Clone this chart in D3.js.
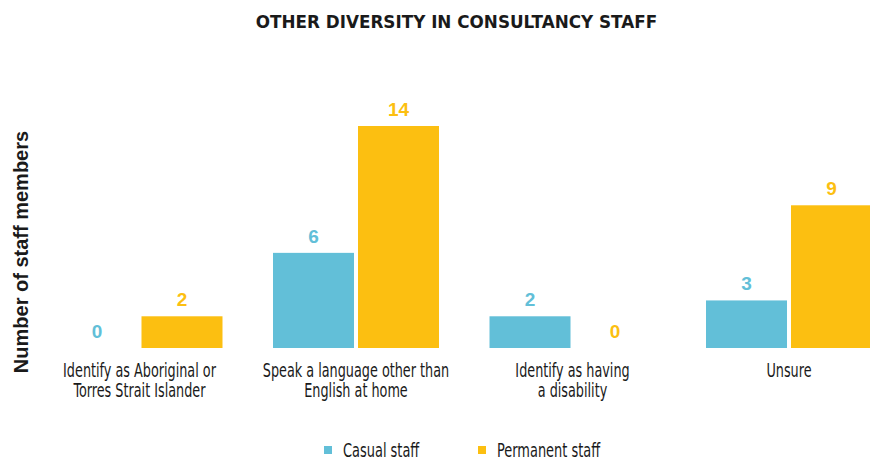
<!DOCTYPE html>
<html>
<head>
<meta charset="utf-8">
<script src="https://cdn.jsdelivr.net/npm/d3@7"></script>
<style>
  html, body { margin: 0; padding: 0; background: #ffffff; }
  svg { display: block; }
</style>
</head>
<body>
<svg id="chart" width="870" height="460"></svg>
<script>
const title = "OTHER DIVERSITY IN CONSULTANCY STAFF";
const yAxisTitle = "Number of staff members";
const categories = [
  ["Identify as Aboriginal or", "Torres Strait Islander"],
  ["Speak a language other than", "English at home"],
  ["Identify as having", "a disability"],
  ["Unsure"]
];
const seriesNames = ["Casual staff", "Permanent staff"];
const casualValues = [0, 6, 2, 3];
const permanentValues = [2, 14, 0, 9];
const seriesColors = ["#62BFD8", "#FCBF11"];

const condensed = "'DejaVu Sans Condensed', 'DejaVu Sans', sans-serif";
const boldFont = "'Liberation Sans', Arial, sans-serif";
const titleFont = "'DejaVu Sans', sans-serif";
const textColor = "#1a1a1a";
const narrow = 0.73;

const svg = d3.select("#chart");
const catKeys = categories.map((c, i) => i);
const seriesValues = [casualValues, permanentValues];

const x0 = d3.scaleBand().domain(catKeys).range([31.25, 897.25]).paddingInner(0.2333).paddingOuter(0.11665);
const x1 = d3.scaleBand().domain(d3.range(seriesNames.length)).range([0, x0.bandwidth()]).paddingInner(0.047);
const y = d3.scaleLinear().domain([0, 14]).range([348, 126]);

// title
svg.append("text")
  .attr("x", 456.5).attr("y", 28.3)
  .attr("text-anchor", "middle")
  .attr("font-family", titleFont).attr("font-weight", "bold")
  .attr("font-size", 16.8).attr("fill", textColor)
  .text(title);

// y-axis title
svg.append("text")
  .attr("transform", "translate(28,252) rotate(-90)")
  .attr("text-anchor", "middle")
  .attr("font-family", boldFont).attr("font-weight", "bold")
  .attr("font-size", 20).attr("fill", textColor)
  .text(yAxisTitle);

const groups = svg.append("g").selectAll("g")
  .data(catKeys).join("g")
  .attr("transform", d => `translate(${x0(d)},0)`);

groups.selectAll("rect")
  .data(ci => seriesValues.map((vals, si) => ({ si, v: vals[ci] })))
  .join("rect")
  .attr("x", d => x1(d.si))
  .attr("width", x1.bandwidth())
  .attr("y", d => y(d.v))
  .attr("height", d => y(0) - y(d.v))
  .attr("fill", d => seriesColors[d.si]);

groups.selectAll("text.val")
  .data(ci => seriesValues.map((vals, si) => ({ si, v: vals[ci] })))
  .join("text")
  .attr("class", "val")
  .attr("x", d => x1(d.si) + x1.bandwidth() / 2)
  .attr("y", d => y(d.v) - 10)
  .attr("text-anchor", "middle")
  .attr("font-family", boldFont).attr("font-weight", "bold")
  .attr("font-size", 19)
  .attr("fill", d => seriesColors[d.si])
  .text(d => d.v);

// category labels
groups.append("g")
  .attr("transform", `translate(${x0.bandwidth() / 2},377) scale(${narrow},1)`)
  .append("text")
  .attr("text-anchor", "middle")
  .attr("font-family", condensed)
  .attr("font-size", 19.5).attr("fill", textColor)
  .selectAll("tspan")
  .data(ci => categories[ci])
  .join("tspan")
  .attr("x", 0)
  .attr("dy", (d, i) => i === 0 ? 0 : 20)
  .text(d => d);

// legend
const legendX = [324, 478];
const legend = svg.append("g").selectAll("g")
  .data(seriesNames).join("g")
  .attr("transform", (d, i) => `translate(${legendX[i]},0)`);
legend.append("rect")
  .attr("x", 0).attr("y", 446).attr("width", 8).attr("height", 8)
  .attr("fill", (d, i) => seriesColors[i]);
legend.append("g")
  .attr("transform", `translate(19,456.7) scale(0.75,1)`)
  .append("text")
  .attr("font-family", condensed)
  .attr("font-size", 19.2).attr("fill", textColor)
  .text(d => d);
</script>
</body>
</html>
